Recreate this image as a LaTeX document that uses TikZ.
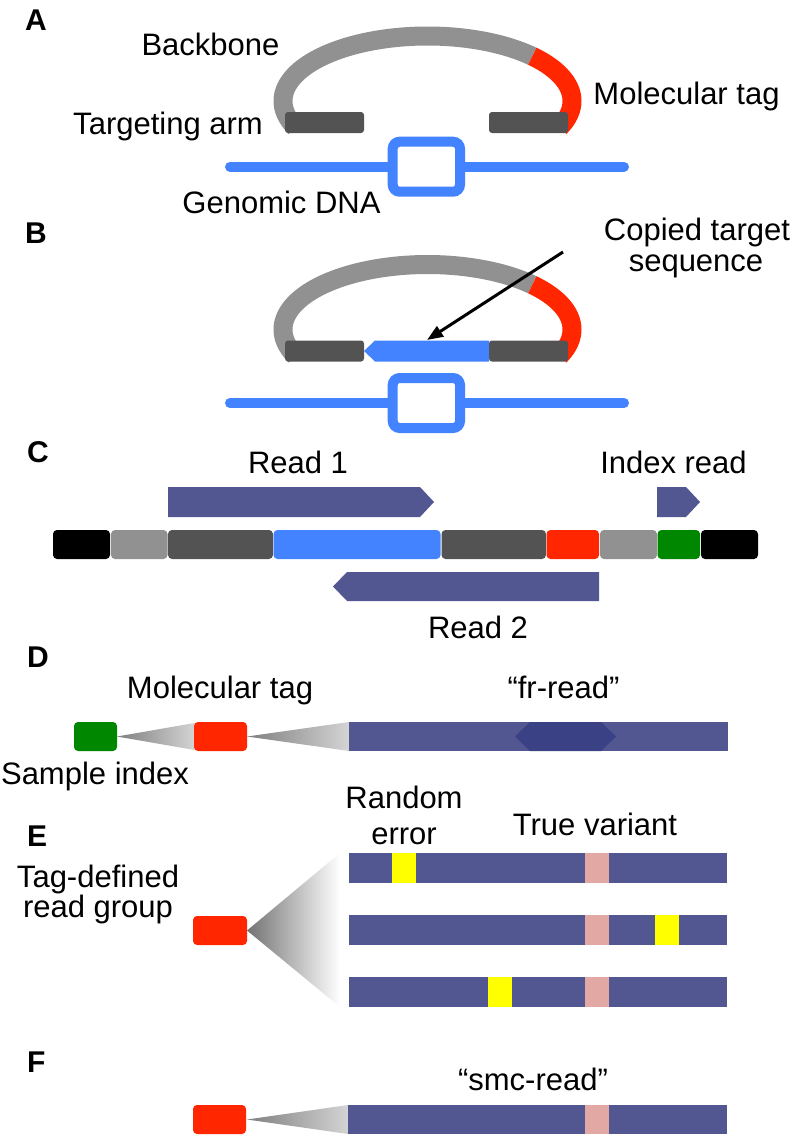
\documentclass[tikz,border=0pt]{standalone}
\usepackage{fontspec}
\setmainfont{Liberation Sans}
\usetikzlibrary{arrows.meta}
\definecolor{rd}{RGB}{255,38,0}
\definecolor{gr}{RGB}{145,145,145}
\definecolor{dg}{RGB}{83,83,83}
\definecolor{bl}{RGB}{68,131,255}
\definecolor{gn}{RGB}{0,135,0}
\definecolor{pu}{RGB}{82,86,145}
\definecolor{dpu}{RGB}{58,65,133}
\definecolor{ye}{RGB}{255,255,0}
\definecolor{pk}{RGB}{225,168,164}
\tikzset{
  txt/.style={inner sep=0pt, anchor=base, font=\fontsize{31}{31}\selectfont},
  plab/.style={inner sep=0pt, anchor=base west, font=\fontsize{30}{30}\selectfont\bfseries},
  arm/.style={fill=dg, rounded corners=3pt},
  blk/.style={rounded corners=4pt},
  probe/.pic={
    \draw[gr, line width=19pt] plot[domain=204:43.5, samples=90, smooth] ({427.5+144.5*cos(\x)},{101-65*sin(\x)});
    \draw[rd, line width=19pt] plot[domain=43.5:-24, samples=40, smooth] ({427.5+144.5*cos(\x)},{101-65*sin(\x)});
    \fill[arm] (285,112) rectangle (364,133);
    \fill[arm] (489,112) rectangle (568,133);
  },
  dna/.pic={
    \draw[bl, line width=10pt, line cap=round] (230,0) -- (624,0);
    \draw[bl, line width=10pt, fill=white, rounded corners=7pt] (392.7,-25) rectangle (460,25);
  }
}
\begin{document}
\begin{tikzpicture}[x=1pt,y=-1pt]
\useasboundingbox (0,0) rectangle (792,1138);
\fill[white] (0,0) rectangle (792,1138);

% ---------- Panel A ----------
\node[plab] (labA) at (25,30) {A};
\pic (pa) at (0,0) {probe};
\pic (da) at (0,166.7) {dna};
\node[txt] (backbone) at (210.5,55) {Backbone};
\node[txt] (tarm) at (168,134) {Targeting arm};
\node[txt] (mtagA) at (686.5,104) {Molecular tag};
\node[txt] (gdna) at (281.5,213) {Genomic DNA};

% ---------- Panel B ----------
\node[plab] (labB) at (25,243) {B};
\fill[bl] (364,351) -- (375,340.5) -- (489,340.5) -- (489,361.5) -- (375,361.5) -- cycle;
\pic (pb) at (0,228.5) {probe};
\pic (db) at (0,403) {dna};
\node[txt] (ct1) at (697,240) {Copied target};
\node[txt] (ct2) at (696,271) {sequence};
\coordinate (arrS) at (563,252);
\coordinate (arrE) at (427,340);
\draw[line width=3pt, -{Triangle[length=16pt,width=12pt]}] (arrS) -- (arrE);

% ---------- Panel C ----------
\node[plab] (labC) at (27,462) {C};
\foreach \a/\b/\c in {53/110/black, 111/167.5/gr, 168/273/dg, 273.5/440.5/bl, 441.5/546/dg, 546.5/599/rd, 600/657/gr, 657.5/700/gn, 701/758/black}
  \fill[\c, blk] (\a,530) rectangle (\b,559);
\fill[pu] (168,487) -- (420,487) -- (434,502) -- (420,517) -- (168,517) -- cycle;
\fill[pu] (657,487) -- (686,487) -- (700,502) -- (686,517) -- (657,517) -- cycle;
\fill[pu] (333,586.5) -- (347,572) -- (599,572) -- (599,601) -- (347,601) -- cycle;
\node[txt] (read1) at (298,473) {Read 1};
\node[txt] (iread) at (673.5,473) {Index read};
\node[txt] (read2) at (478,638) {Read 2};

% ---------- Panel D ----------
\node[plab] (labD) at (27,667) {D};
\shade[left color=black!50, right color=black!17] (117,736.5) -- (194.5,723) -- (194.5,750) -- cycle;
\shade[left color=black!50, right color=black!17] (247,736.5) -- (349,722) -- (349,751) -- cycle;
\fill[gn, blk] (74,722) rectangle (117,751);
\fill[rd, blk] (194,722) rectangle (247,751);
\fill[pu] (349,722) rectangle (728,751);
\fill[dpu] (515,736.5) -- (530,722) -- (601,722) -- (616,736.5) -- (601,751) -- (530,751) -- cycle;
\node[txt] (mtagD) at (220,698) {Molecular tag};
\node[txt] (frread) at (563.5,698) {“fr-read”};
\node[txt] (sidx) at (95,784) {Sample index};

% ---------- Panel E ----------
\node[plab] (labE) at (27,846) {E};
\node[txt] (rand1) at (404,808) {Random};
\node[txt] (rand2) at (404,844) {error};
\node[txt] (tvar) at (595,835) {True variant};
\node[txt] (tdg1) at (98,887) {Tag-defined};
\node[txt] (tdg2) at (98,917) {read group};
\shade[left color=black!55, right color=white] (247,930.5) -- (340,853) -- (340,1007) -- cycle;
\fill[rd, blk] (193,916) rectangle (247,945);
\foreach \y/\e in {853/392, 915/655, 977/488} {
  \fill[pu] (349,\y) rectangle (727,\y+29.5);
  \fill[pk] (585,\y) rectangle (609,\y+29.5);
  \fill[ye] (\e,\y) rectangle (\e+24,\y+29.5);
}

% ---------- Panel F ----------
\node[plab] (labF) at (27,1072) {F};
\node[txt] (smc) at (533,1090) {“smc-read”};
\shade[left color=black!50, right color=black!17] (247,1119.5) -- (348,1105) -- (348,1134) -- cycle;
\fill[rd, blk] (193,1105) rectangle (246,1134);
\fill[pu] (348,1105) rectangle (727,1134);
\fill[pk] (585,1105) rectangle (609,1134);
\end{tikzpicture}
\end{document}
